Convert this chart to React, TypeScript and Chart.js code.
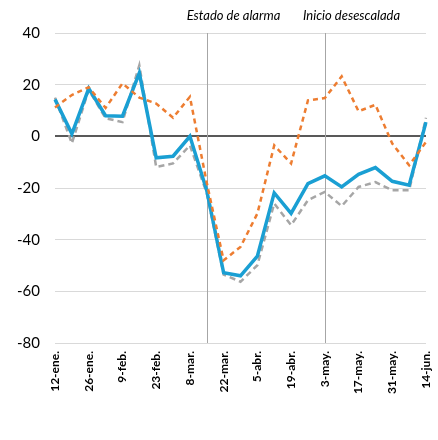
import React, { useEffect, useRef } from "react";
import { Chart, registerables } from "chart.js";

Chart.register(...registerables);

const weeks = [
  "12-ene.", "19-ene.", "26-ene.", "2-feb.", "9-feb.", "16-feb.", "23-feb.", "1-mar.",
  "8-mar.", "15-mar.", "22-mar.", "29-mar.", "5-abr.", "12-abr.", "19-abr.", "26-abr.",
  "3-may.", "10-may.", "17-may.", "24-may.", "31-may.", "7-jun.", "14-jun.",
];

const seriesBlue = [14.3, 1, 18.5, 8, 7.8, 24.5, -8.3, -7.7, 0, -21, -52.8, -54, -46.4, -21.9, -29.8, -18.3, -15.3, -19.6, -14.7, -12.1, -17.4, -18.9, 5.5];
const seriesGray = [15, -2.7, 18, 7, 5.5, 27.5, -11.9, -10.5, -3.5, -22, -53.5, -56.3, -49.9, -26, -34.4, -24.7, -21.5, -27, -19.6, -17.7, -20.9, -20.9, 7.2];
const seriesOrange = [11.2, 16, 19, 11, 20.5, 15, 12.7, 7.2, 15.3, -18, -48, -42.8, -29.9, -3.5, -10.5, 13.9, 14.8, 23.2, 9.7, 12.2, -2.8, -11.2, -2.2];

const yMin = -80;
const yMax = 40;
const yStep = 20;

const eventIndices = [9, 16];
const eventLabels = ["Estado de alarma", "Inicio desescalada"];

const FONT = "Lato, 'Liberation Sans', sans-serif";

const eventsPlugin = {
  id: "events",
  beforeDatasetsDraw(chart: any) {
    const { ctx, chartArea, scales } = chart;
    ctx.save();
    eventIndices.forEach((idx, i) => {
      const x = Math.round(scales.x.getPixelForValue(idx)) + 0.5;
      ctx.strokeStyle = "#a6a6a6";
      ctx.lineWidth = 1;
      ctx.beginPath();
      ctx.moveTo(x, chartArea.top);
      ctx.lineTo(x, chartArea.bottom);
      ctx.stroke();
      ctx.fillStyle = "#000000";
      ctx.font = `italic 13px ${FONT}`;
      ctx.textAlign = "center";
      ctx.textBaseline = "middle";
      ctx.fillText(eventLabels[i], x + 26, 16);
    });
    ctx.restore();
  },
};

export default function App() {
  const ref = useRef<HTMLCanvasElement>(null);

  useEffect(() => {
    document.body.style.margin = "0";
    const canvas = ref.current;
    if (!canvas) return;
    const chart = new Chart(canvas, {
      type: "line",
      data: {
        labels: weeks,
        datasets: [
          {
            label: "Serie gris",
            data: seriesGray,
            borderColor: "#a6a6a6",
            borderWidth: 2.5,
            borderDash: [6, 4],
            pointRadius: 0,
            tension: 0,
            order: 3,
          },
          {
            label: "Serie azul",
            data: seriesBlue,
            borderColor: "#1a9fd3",
            borderWidth: 3.5,
            pointRadius: 0,
            tension: 0,
            order: 2,
          },
          {
            label: "Serie naranja",
            data: seriesOrange,
            borderColor: "#ed7d31",
            borderWidth: 2.5,
            borderDash: [5, 4],
            pointRadius: 0,
            tension: 0,
            order: 1,
          },
        ],
      },
      options: {
        animation: false,
        responsive: false,
        maintainAspectRatio: false,
        layout: { padding: { top: 33, right: 12, left: 0, bottom: 0 } },
        plugins: { legend: { display: false }, tooltip: { enabled: false } },
        scales: {
          x: {
            type: "category",
            offset: false,
            grid: { display: false, drawTicks: false },
            border: { display: false },
            afterFit(scale: any) {
              scale.height = 97;
              scale.paddingLeft = 0;
              scale.paddingRight = 0;
            },
            ticks: {
              autoSkip: false,
              maxRotation: 90,
              minRotation: 90,
              padding: 8,
              color: "#000000",
              font: { family: FONT, size: 12, weight: "bold" },
              callback(_v: any, i: number) {
                return i % 2 === 0 ? weeks[i] : "";
              },
            },
          },
          y: {
            min: yMin,
            max: yMax,
            afterFit(scale: any) {
              scale.width = 55;
              scale.paddingTop = 0;
              scale.paddingBottom = 0;
            },
            border: { display: false },
            grid: {
              drawTicks: false,
              color: (c: any) => (c.tick && c.tick.value === 0 ? "#595959" : "#d9d9d9"),
              lineWidth: (c: any) => (c.tick && c.tick.value === 0 ? 2 : 1),
            },
            ticks: {
              stepSize: yStep,
              padding: 15,
              color: "#000000",
              font: { family: FONT, size: 15 },
            },
          },
        },
      },
      plugins: [eventsPlugin],
    });
    return () => chart.destroy();
  }, []);

  return <canvas ref={ref} width={438} height={440} style={{ display: "block" }} />;
}
